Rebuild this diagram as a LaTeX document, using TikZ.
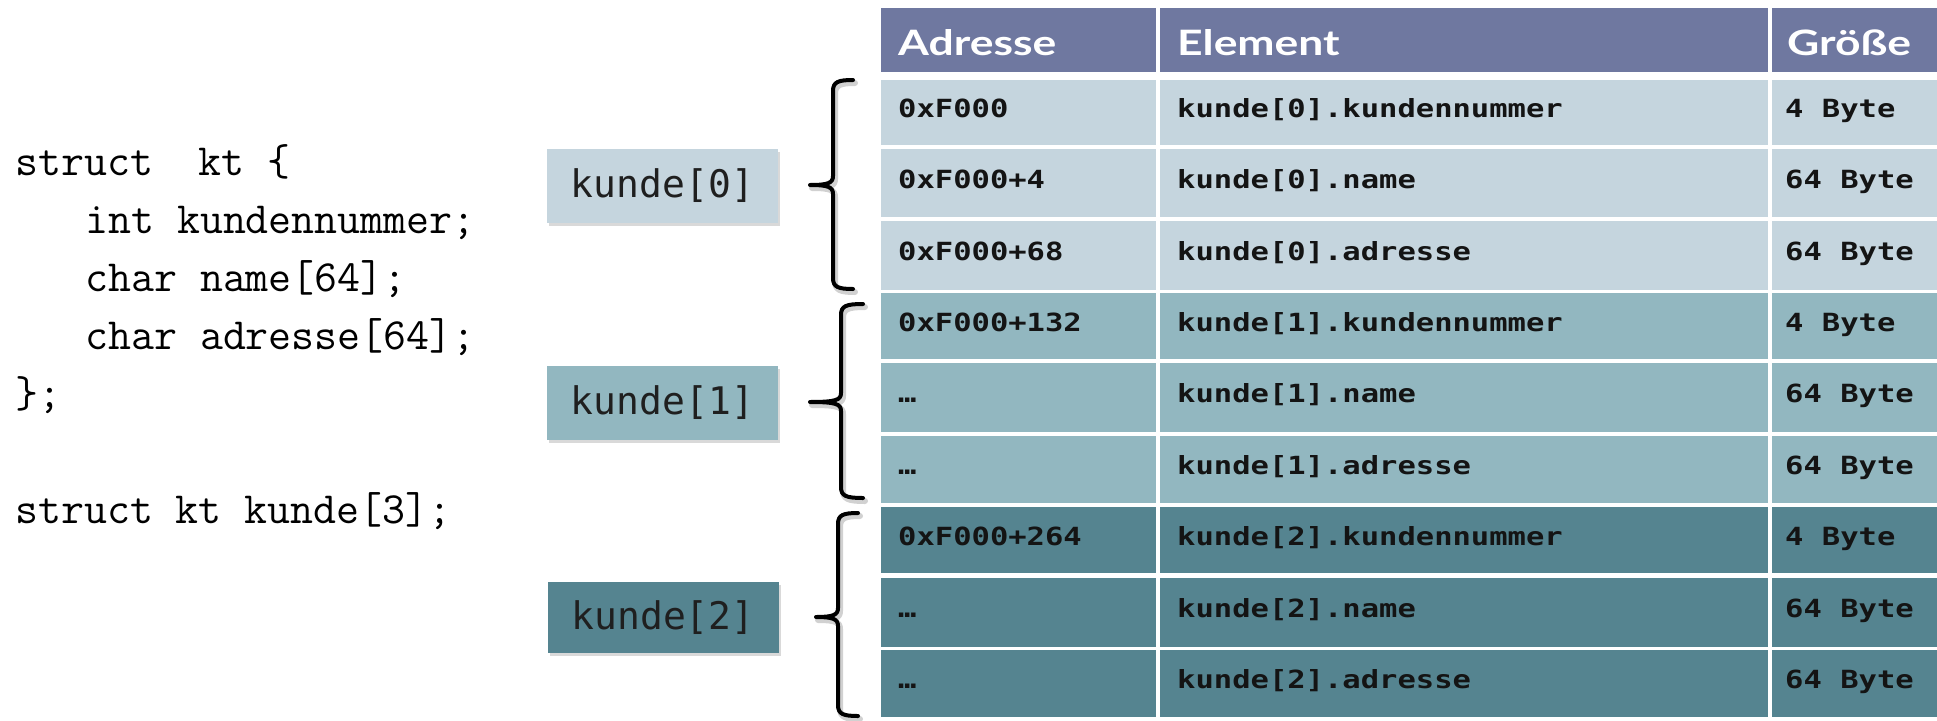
\documentclass[tikz,border=0pt]{standalone}
\usepackage{fontspec}
\usetikzlibrary{shadows}
\newfontfamily\cellfont[FakeStretch=1.22]{DejaVu Sans Mono}
\newfontfamily\boxfont{DejaVu Sans Mono}
\newfontfamily\headfont[FakeStretch=1.27]{Lato}
\definecolor{hdr}{RGB}{111,120,160}
\definecolor{gA}{RGB}{197,213,222}
\definecolor{gB}{RGB}{146,183,192}
\definecolor{gC}{RGB}{85,132,144}
\newcommand\bracepath[6]{%
  (#5,#2) .. controls (#1+5,#2) and (#1,#2+2) .. (#1,#2+11) -- (#1,#3-9)
  .. controls (#1,#3-2) and (#1-5,#3) .. (#6,#3)
  (#6,#3) .. controls (#1-5,#3) and (#1,#3+2) .. (#1,#3+9) -- (#1,#4-11)
  .. controls (#1,#4-2) and (#1+5,#4) .. (#5,#4)}
\begin{document}
\begin{tikzpicture}[x=1pt,y=-1pt,
  codetext/.style={anchor=base west,inner sep=0pt,font=\fontsize{44.6}{58}\selectfont\ttfamily},
  celltext/.style={anchor=base west,inner sep=0pt,text=black!92,font=\fontsize{25}{29}\selectfont\cellfont\bfseries},
  headtext/.style={anchor=base west,inner sep=0pt,text=white,font=\fontsize{35}{40}\selectfont\headfont\bfseries},
  kbox/.style={minimum width=231pt,minimum height=74pt,inner sep=0pt,
    font=\fontsize{38}{44}\selectfont\boxfont,text=black!88,
    drop shadow={shadow xshift=2pt,shadow yshift=-3pt,opacity=0.3}},
  bracestroke/.style={line width=4pt,line cap=round,line join=round},
  braceshade/.style={line width=6pt,line cap=round,line join=round,black,opacity=0.18}
]
\useasboundingbox (0,0) rectangle (1937,720);

% ---- code ----
\node[codetext] (c1) at (15,175) {struct\ \ kt \{};
\node[codetext] (c2) at (85,233) {int kundennummer;};
\node[codetext] (c3) at (85,291) {char name[64];};
\node[codetext] (c4) at (85,349) {char adresse[64];};
\node[codetext] (c5) at (15,407) {\};};
\node[codetext] (c6) at (15,523) {struct kt kunde[3];};

% ---- boxes ----
\node[kbox,fill=gA] (k0) at (662.5,186) {kunde[0]};
\node[kbox,fill=gB] (k1) at (662.5,403) {kunde[1]};
\node[kbox,fill=gC,minimum height=71pt] (k2) at (663,617.5) {kunde[2]};

% ---- braces ----
\foreach \X/\T/\M/\B/\R/\L in {833/80/185/289/853/810, 841/304/402/498/863/810, 838/513/617/716/858/816}{
  \draw[braceshade,shift={(2,3)}] \bracepath{\X}{\T}{\M}{\B}{\R}{\L};
  \draw[bracestroke] \bracepath{\X}{\T}{\M}{\B}{\R}{\L};
}

% ---- table ----
\fill[hdr] (881,8) rectangle (1156,72);
\fill[hdr] (1160,8) rectangle (1768,72);
\fill[hdr] (1772,8) rectangle (1937,72);
\foreach \t/\b/\c in {80/145/gA,149/217/gA,221/290/gA,293/359/gB,363/432/gB,436/503/gB,507/573/gC,578/647/gC,650/717/gC}{
  \fill[\c] (881,\t) rectangle (1156,\b);
  \fill[\c] (1160,\t) rectangle (1768,\b);
  \fill[\c] (1772,\t) rectangle (1937,\b);
}
\node[headtext] (h1) at (898,55) {Adresse};
\node[headtext] (h2) at (1177,55) {Element};
\node[headtext] (h3) at (1787,55) {Größe};

\node[celltext] (a1) at (898,117.5) {0xF000};
\node[celltext] (e1) at (1177,117.5) {kunde[0].kundennummer};
\node[celltext] (s1) at (1785,117.5) {4 Byte};
\node[celltext] (a2) at (898,188) {0xF000+4};
\node[celltext] (e2) at (1177,188) {kunde[0].name};
\node[celltext] (s2) at (1785,188) {64 Byte};
\node[celltext] (a3) at (898,260.5) {0xF000+68};
\node[celltext] (e3) at (1177,260.5) {kunde[0].adresse};
\node[celltext] (s3) at (1785,260.5) {64 Byte};
\node[celltext] (a4) at (898,331) {0xF000+132};
\node[celltext] (e4) at (1177,331) {kunde[1].kundennummer};
\node[celltext] (s4) at (1785,331) {4 Byte};
\node[celltext] (a5) at (898,402.5) {…};
\node[celltext] (e5) at (1177,402.5) {kunde[1].name};
\node[celltext] (s5) at (1785,402.5) {64 Byte};
\node[celltext] (a6) at (898,474.5) {…};
\node[celltext] (e6) at (1177,474.5) {kunde[1].adresse};
\node[celltext] (s6) at (1785,474.5) {64 Byte};
\node[celltext] (a7) at (898,545) {0xF000+264};
\node[celltext] (e7) at (1177,545) {kunde[2].kundennummer};
\node[celltext] (s7) at (1785,545) {4 Byte};
\node[celltext] (a8) at (898,617.5) {…};
\node[celltext] (e8) at (1177,617.5) {kunde[2].name};
\node[celltext] (s8) at (1785,617.5) {64 Byte};
\node[celltext] (a9) at (898,688.5) {…};
\node[celltext] (e9) at (1177,688.5) {kunde[2].adresse};
\node[celltext] (s9) at (1785,688.5) {64 Byte};
\end{tikzpicture}
\end{document}
